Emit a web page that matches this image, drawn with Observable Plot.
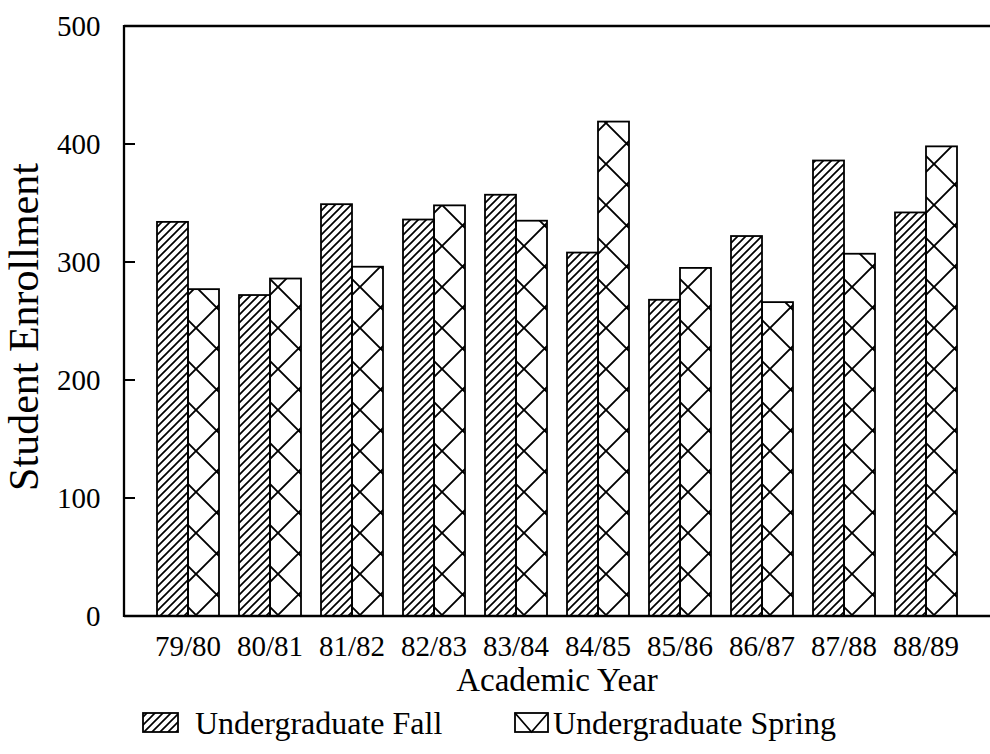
<!DOCTYPE html>
<html>
<head>
<meta charset="utf-8">
<script src="https://cdn.jsdelivr.net/npm/d3@7"></script>
<script src="https://cdn.jsdelivr.net/npm/@observablehq/plot@0.6"></script>
<style>
  html, body { margin: 0; padding: 0; background: #fff; }
  body { width: 990px; height: 754px; overflow: hidden; font-family: "Liberation Serif", "Times New Roman", serif; }
  #chart svg { display: block; }
  #legend { display: block; }
</style>
</head>
<body>
<svg width="0" height="0" style="position:absolute">
  <defs>
    <pattern id="fallHatch" patternUnits="userSpaceOnUse" width="8" height="8">
      <path d="M-2,2 L2,-2 M0,8 L8,0 M6,10 L10,6" stroke="#000" stroke-width="1.7" fill="none"/>
    </pattern>
    <pattern id="springHatch" patternUnits="userSpaceOnUse" width="41" height="41">
      <path id="springPath" d="" stroke="#000" stroke-width="1.9" fill="none"/>
    </pattern>
  </defs>
</svg>
<div id="chart"></div>
<svg id="legend" width="990" height="54"></svg>
<script>
// ---- data ----
const years = ["79/80", "80/81", "81/82", "82/83", "83/84", "84/85", "85/86", "86/87", "87/88", "88/89"];
const terms = ["Fall", "Spring"];
const fallValues = [334, 272, 349, 336, 357, 308, 268, 322, 386, 342];
const springValues = [277, 286, 296, 348, 335, 419, 295, 266, 307, 398];
const yTicks = [0, 100, 200, 300, 400, 500];
const legendLabels = ["Undergraduate Fall", "Undergraduate Spring"];
const xTitle = "Academic Year";
const yTitle = "Student Enrollment";

const rows = years.flatMap((yr, i) => [
  {year: yr, term: terms[0], value: fallValues[i]},
  {year: yr, term: terms[1], value: springValues[i]}
]);

const W = 990, H = 700, mL = 124, mR = 0, mT = 26, mB = 84;

const plot = Plot.plot({
  width: W, height: H,
  marginLeft: mL, marginRight: mR, marginTop: mT, marginBottom: mB,
  style: {fontFamily: "'Liberation Serif', 'Times New Roman', serif", fontSize: "29px", color: "#000", background: "#fff"},
  fx: {domain: years, paddingInner: 0.23, paddingOuter: 0.39, label: null},
  x: {domain: terms, padding: 0, axis: null},
  y: {domain: [0, 500], label: null},
  marks: [
    Plot.barY(rows.filter(d => d.term === terms[0]), {fx: "year", x: "term", y: "value", fill: "url(#fallHatch)", stroke: "#000", strokeWidth: 1.8, ariaLabel: "fall-bars"}),
    Plot.barY(rows.filter(d => d.term === terms[1]), {fx: "year", x: "term", y: "value", fill: "url(#springHatch)", stroke: "#000", strokeWidth: 1.8, ariaLabel: "spring-bars"}),
    Plot.axisY({ticks: yTicks, tickSize: 0, tickPadding: 24, fontSize: 29, tickFormat: "d", label: null}),
    Plot.axisFx({anchor: "bottom", tickSize: 0, tickPadding: 19, fontSize: 29, label: null})
  ]
});
document.getElementById("chart").appendChild(plot);

const svg = d3.select(plot);
const y = plot.scale("y");
const fx = plot.scale("fx");
const y0 = y.apply(0), y500 = y.apply(500);

// shift y tick labels so they are measured from the frame's left edge (not the first facet)
const off = fx.apply(years[0]) - mL;
svg.selectAll('g[aria-label="y-axis tick label"]').each(function() {
  const el = d3.select(this);
  const tr = el.attr("transform") || "";
  el.attr("transform", `translate(${-off},0) ${tr}`);
});

// frame lines (axis at left, top, bottom)
const g = svg.append("g").attr("stroke", "#000").attr("stroke-width", 2.3).attr("fill", "none");
g.append("line").attr("x1", mL).attr("x2", W).attr("y1", y0).attr("y2", y0);
g.append("line").attr("x1", mL).attr("x2", W).attr("y1", y500).attr("y2", y500);
g.append("line").attr("x1", mL).attr("x2", mL).attr("y1", y500 - 1).attr("y2", y0 + 1);
// inward tick marks
yTicks.filter(v => v > 0 && v < 500).forEach(v => {
  g.append("line").attr("x1", mL).attr("x2", mL + 11).attr("y1", y.apply(v)).attr("y2", y.apply(v)).attr("stroke-width", 2);
});

// axis titles
svg.append("text").attr("x", (mL + W) / 2).attr("y", 691)
  .attr("text-anchor", "middle").attr("font-size", 33).attr("fill", "#000").text(xTitle);
svg.append("text").attr("transform", `translate(38,${(y0 + y500) / 2 + 6}) rotate(-90)`)
  .attr("text-anchor", "middle").attr("font-size", 42).attr("fill", "#000").text(yTitle);

// align crosshatch with spring bars
const step = (fx && fx.step) ? fx.step : 82;
const t = step / 2;
d3.select("#springHatch").attr("width", t).attr("height", t);
d3.select("#springPath").attr("d",
  `M-10,-10L${t+10},${t+10} M-10,${t-10}L10,${t+10} M${t-10},-10L${t+10},10 ` +
  `M${t+10},-10L-10,${t+10} M-10,10L10,-10 M${t-10},${t+10}L${t+10},${t-10}`);
const sr = plot.querySelector('g[aria-label="spring-bars"] rect');
if (sr) {
  const bb = sr.getBBox();
  d3.select("#springHatch").attr("x", bb.x).attr("y", bb.y + bb.height - 23);
}

// legend
const lg = d3.select("#legend");
lg.append("rect").attr("x", 143).attr("y", 13).attr("width", 35).attr("height", 19)
  .attr("fill", "url(#fallHatch)").attr("stroke", "#000").attr("stroke-width", 1.8);
lg.append("text").attr("x", 195).attr("y", 34).attr("font-size", 32).attr("fill", "#000").text(legendLabels[0]);
lg.append("rect").attr("x", 515).attr("y", 13).attr("width", 33).attr("height", 19)
  .attr("fill", "#fff").attr("stroke", "#000").attr("stroke-width", 1.8);
lg.append("path").attr("d", "M515,13 L531.5,32 L548,13").attr("stroke", "#000").attr("stroke-width", 1.8).attr("fill", "none");
lg.append("text").attr("x", 553).attr("y", 34).attr("font-size", 32).attr("fill", "#000").text(legendLabels[1]);
lg.selectAll("text").attr("font-family", "'Liberation Serif', 'Times New Roman', serif");
</script>
</body>
</html>
